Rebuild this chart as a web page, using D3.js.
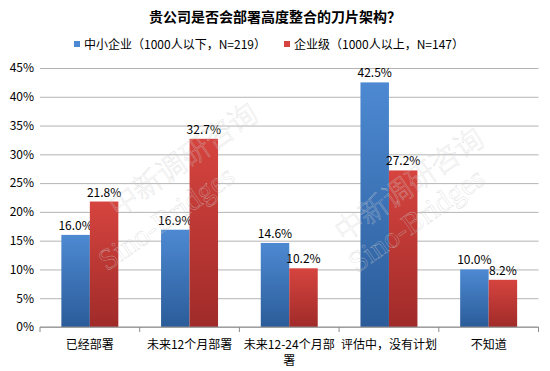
<!DOCTYPE html>
<html>
<head>
<meta charset="utf-8">
<script src="https://cdn.jsdelivr.net/npm/d3@7"></script>
<style>
  body { margin: 0; background: #fff; }
  text { font-family: "Noto Sans CJK SC", "Liberation Sans", sans-serif; }
</style>
</head>
<body>
<div id="svgcontainer"></div>
<script>
const categories = ['已经部署', '未来12个月部署', '未来12-24个月部署', '评估中，没有计划', '不知道'];
const seriesNames = ['中小企业（1000人以下，N=219）', '企业级（1000人以上，N=147）'];
const smallBiz = [16.0, 16.9, 14.6, 42.5, 10.0];
const enterprise = [21.8, 32.7, 10.2, 27.2, 8.2];
const yTicks = [0, 5, 10, 15, 20, 25, 30, 35, 40, 45];
const title = '贵公司是否会部署高度整合的刀片架构？';
const watermark = ['中新调研咨询', 'Sino-Bridges'];

const width = 550, height = 371;
const margin = { top: 68, right: 12, bottom: 44, left: 40 };
const colors = [
  ['#4d89d2', '#2b5c99'],
  ['#d6443f', '#a02b29'],
];

const svg = d3.select('#svgcontainer')
  .append('svg')
  .attr('width', width)
  .attr('height', height);

// gradients for the bars
const defs = svg.append('defs');
colors.forEach((c, i) => {
  const g = defs.append('linearGradient')
    .attr('id', 'grad' + i)
    .attr('x1', '0%').attr('x2', '0%')
    .attr('y1', '0%').attr('y2', '100%');
  g.append('stop').attr('offset', '0%').attr('stop-color', c[0]);
  g.append('stop').attr('offset', '100%').attr('stop-color', c[1]);
});

const xScale = d3.scaleBand()
  .domain(categories)
  .range([margin.left, 538.5])
  .padding(0);

const xInner = d3.scaleBand()
  .domain([0, 1])
  .range([0, xScale.bandwidth()])
  .paddingInner(0)
  .paddingOuter(0.75);

const yScale = d3.scaleLinear()
  .domain([0, 45])
  .range([height - margin.bottom, margin.top]);

// title
svg.append('text')
  .attr('x', 275)
  .attr('y', 22)
  .attr('text-anchor', 'middle')
  .attr('font-size', '14px')
  .attr('font-weight', 'bold')
  .attr('fill', '#000')
  .text(title);

// legend
const legendX = [74, 284];
seriesNames.forEach((name, i) => {
  svg.append('rect')
    .attr('x', legendX[i])
    .attr('y', 41)
    .attr('width', 6)
    .attr('height', 6)
    .attr('fill', colors[i][0]);
  svg.append('text')
    .attr('x', legendX[i] + 10)
    .attr('y', 48.5)
    .attr('font-size', '12px')
    .attr('fill', '#000')
    .text(name);
});

// y grid lines + labels
svg.append('g')
  .attr('class', 'y-axis-grid')
  .attr('transform', 'translate(' + margin.left + ',0)')
  .call(d3.axisLeft(yScale).tickValues(yTicks).tickSize(-(538.5 - margin.left)).tickFormat(d => d + '%'))
  .call(g => g.select('.domain').remove())
  .call(g => g.selectAll('line').attr('stroke', '#b4b4b4'))
  .call(g => g.selectAll('text')
    .attr('x', -6)
    .attr('font-size', '12px')
    .attr('fill', '#000'));

// bars
const groups = svg.append('g')
  .selectAll('g')
  .data(categories)
  .enter()
  .append('g')
  .attr('transform', d => 'translate(' + xScale(d) + ',0)');

[smallBiz, enterprise].forEach((values, s) => {
  groups.append('rect')
    .attr('x', xInner(s))
    .attr('y', (d, i) => yScale(values[i]))
    .attr('width', xInner.bandwidth())
    .attr('height', (d, i) => yScale(0) - yScale(values[i]))
    .attr('fill', 'url(#grad' + s + ')');
  groups.append('text')
    .attr('x', xInner(s) + xInner.bandwidth() / 2)
    .attr('y', (d, i) => yScale(values[i]) - 5)
    .attr('text-anchor', 'middle')
    .attr('font-size', '12px')
    .attr('fill', '#000')
    .text((d, i) => values[i].toFixed(1) + '%');
});

// watermark, faint outlined text on top
const marks = [
  [[189, 168], [172, 226]],
  [[415, 193], [422, 228]],
];
marks.forEach(m => {
  m.forEach((p, i) => {
    svg.append('text')
      .attr('transform', 'translate(' + p[0] + ',' + p[1] + ') rotate(-35)')
      .attr('text-anchor', 'middle')
      .attr('font-size', i === 0 ? '29px' : '30px')
      .style('font-family', '"Liberation Serif", "Noto Sans CJK SC", serif')
      .style('font-weight', i === 0 ? 300 : 'normal')
      .attr('fill', 'none')
      .attr('stroke', '#cccccc')
      .attr('stroke-opacity', 0.7)
      .attr('stroke-width', 0.4)
      .text(watermark[i]);
  });
});

// x axis
const xAxis = svg.append('g')
  .attr('transform', 'translate(0,' + yScale(0) + ')');
xAxis.append('line')
  .attr('x1', margin.left).attr('x2', 538.5)
  .attr('stroke', '#8c8c8c');
xAxis.selectAll('.tick-mark')
  .data(categories.concat(['end']))
  .enter()
  .append('line')
  .attr('x1', (d, i) => margin.left + i * xScale.step())
  .attr('x2', (d, i) => margin.left + i * xScale.step())
  .attr('y1', 0).attr('y2', 5)
  .attr('stroke', '#8c8c8c');

const labels = xAxis.selectAll('.cat')
  .data(categories)
  .enter()
  .append('text')
  .attr('class', 'cat')
  .attr('x', d => xScale(d) + xScale.bandwidth() / 2)
  .attr('y', 22)
  .attr('text-anchor', 'middle')
  .attr('font-size', '12px')
  .attr('fill', '#000')
  .text(d => d);

// wrap long category names like the original
labels.each(function (d) {
  const t = d3.select(this);
  if (this.getComputedTextLength() <= xScale.bandwidth() - 1) return;
  const chars = Array.from(d);
  let line = '';
  let rest = [];
  for (let i = 0; i < chars.length; i++) {
    t.text(line + chars[i]);
    if (this.getComputedTextLength() > xScale.bandwidth() - 4) {
      rest = chars.slice(i);
      break;
    }
    line += chars[i];
  }
  t.text(null);
  t.append('tspan').attr('x', t.attr('x')).text(line);
  t.append('tspan').attr('x', t.attr('x')).attr('dy', 16).text(rest.join(''));
});
</script>
</body>
</html>
